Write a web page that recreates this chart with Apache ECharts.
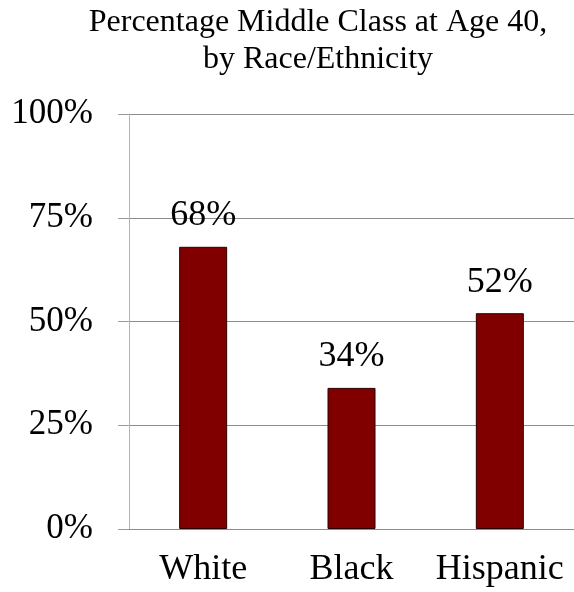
<!DOCTYPE html>
<html>
<head>
<meta charset="utf-8">
<script src="https://cdn.jsdelivr.net/npm/echarts@6/dist/echarts.min.js"></script>
<style>
  html, body { margin: 0; padding: 0; background: #fff; overflow: hidden; }
  #chart { width: 574px; height: 592px; }
</style>
</head>
<body>
<div id="chart"></div>
<script>
// Share of each group in the middle class at age 40
const categories = ['White', 'Black', 'Hispanic'];
const shareMiddleClass = [68, 34, 52];
const yTicks = [0, 25, 50, 75, 100];

const serif = '"Liberation Serif", "Times New Roman", serif';
const chart = echarts.init(document.getElementById('chart'));

chart.setOption({
  animation: false,
  backgroundColor: '#ffffff',
  title: {
    text: 'Percentage Middle Class at Age 40,\nby Race/Ethnicity',
    left: 313,
    textAlign: 'center',
    top: -1,
    textStyle: {
      fontFamily: serif,
      fontWeight: 'normal',
      fontSize: 32,
      lineHeight: 37,
      color: '#000'
    }
  },
  grid: { left: 129, top: 114, right: -8, height: 415, containLabel: false },
  xAxis: {
    type: 'category',
    data: categories,
    axisLine: { show: true, lineStyle: { color: '#8c8c8c', width: 1 } },
    axisTick: { show: false },
    axisLabel: {
      interval: 0,
      margin: 23,
      fontFamily: serif,
      fontSize: 36,
      color: '#000'
    }
  },
  yAxis: {
    type: 'value',
    min: yTicks[0],
    max: yTicks[yTicks.length - 1],
    interval: 25,
    axisLine: { show: true, lineStyle: { color: '#b4b4b4', width: 1 } },
    axisTick: { show: true, length: 11, lineStyle: { color: '#9a9a9a' } },
    splitLine: { show: true, lineStyle: { color: '#8c8c8c', width: 1 } },
    axisLabel: {
      margin: 36,
      fontFamily: serif,
      fontSize: 35,
      color: '#000',
      formatter: v => v + '%'
    }
  },
  series: [{
    type: 'bar',
    data: shareMiddleClass,
    barWidth: 48,
    itemStyle: { color: '#800000', borderColor: '#2a0000', borderWidth: 1 },
    label: {
      show: true,
      position: 'top',
      distance: 13,
      fontFamily: serif,
      fontSize: 36,
      color: '#000',
      formatter: p => p.value + '%'
    }
  }]
});
</script>
</body>
</html>
